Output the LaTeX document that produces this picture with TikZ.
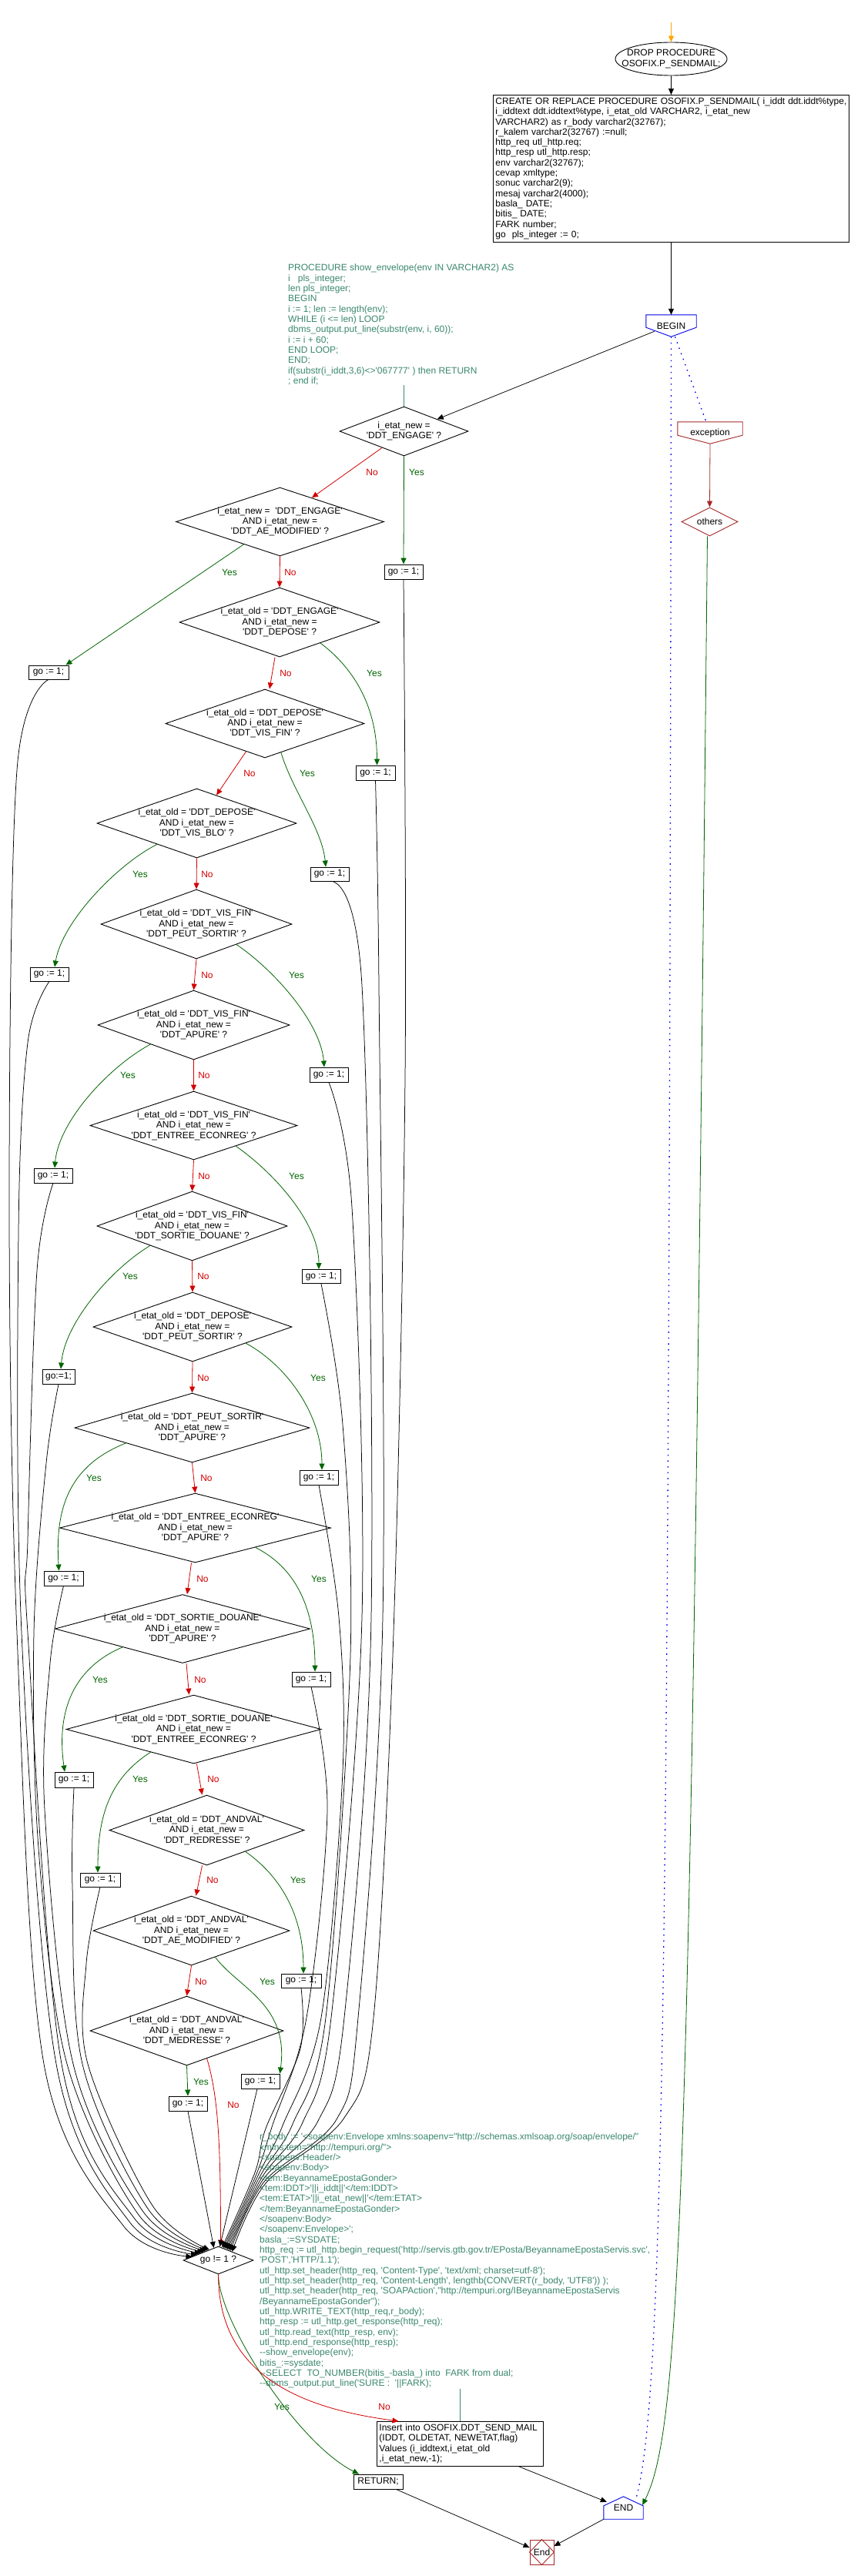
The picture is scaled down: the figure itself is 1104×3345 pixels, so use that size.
\documentclass[tikz,border=0pt]{standalone}
\usepackage{fontspec}
\newfontfamily\lsans{Liberation Sans}
\usetikzlibrary{shapes.geometric,arrows.meta}
\definecolor{yesc}{RGB}{0,100,0}
\definecolor{noc}{RGB}{210,0,0}
\definecolor{cmtc}{RGB}{58,135,110}
\definecolor{brownc}{RGB}{165,40,40}
\definecolor{bluec}{RGB}{0,0,235}
\definecolor{orangec}{RGB}{255,165,0}
\begin{document}
\begin{tikzpicture}[x=1pt,y=-1pt,
  fnt/.style={font=\lsans\fontsize{12}{13.33}\selectfont, inner sep=0pt},
  dec/.style={draw, shape=diamond, inner sep=0pt, line width=0.9pt},
  dtext/.style={fnt, align=center},
  gobox/.style={fnt, draw, line width=0.9pt, minimum width=50pt, minimum height=19pt},
  blkarr/.style={draw=black, line width=0.75pt, -{Triangle[length=8pt,width=7pt]}},
  yesarr/.style={draw=yesc, line width=0.8pt, -{Triangle[length=8pt,width=7pt]}},
  noarr/.style={draw=noc, line width=0.8pt, -{Triangle[length=8pt,width=7pt]}},
  yeslab/.style={fnt, text=yesc},
  nolab/.style={fnt, text=noc},
  cmt/.style={fnt, text=cmtc, align=left},
  cmtline/.style={draw=cmtc, line width=0.8pt},
  bluedot/.style={draw=bluec, line width=1.3pt, dash pattern=on 1.6pt off 6pt}
]
\fill[white] (0,0) rectangle (1104,3345);
\useasboundingbox (0,0) rectangle (1104,3345);

% ---------- top ----------
\coordinate (st) at (871.5,29);
\node[draw, shape=ellipse, line width=0.9pt, minimum width=145pt, minimum height=43pt, inner sep=0pt] (drop) at (871.5,76.5) {};
\node[dtext] (dropt) at (drop) {DROP PROCEDURE\\OSOFIX.P\_SENDMAIL;};
\draw[draw=orangec, line width=0.8pt, -{Triangle[length=8pt,width=7pt]}] (st) -- (drop.north);

\node[fnt, draw, line width=0.9pt, anchor=north west, text width=456pt, align=left, inner xsep=3pt, inner ysep=3.2pt] (cr) at (640,123)
{CREATE OR REPLACE PROCEDURE OSOFIX.P\_SENDMAIL( i\_iddt ddt.iddt\%type,\\
i\_iddtext ddt.iddtext\%type, i\_etat\_old VARCHAR2, i\_etat\_new\\
VARCHAR2) as r\_body varchar2(32767);\\
r\_kalem varchar2(32767) :=null;\\
http\_req utl\_http.req;\\
http\_resp utl\_http.resp;\\
env varchar2(32767);\\
cevap xmltype;\\
sonuc varchar2(9);\\
mesaj varchar2(4000);\\
basla\_ DATE;\\
bitis\_ DATE;\\
FARK number;\\
go \ pls\_integer := 0;};
\draw[blkarr] (drop.south) -- (cr.north);

% BEGIN
\node[fnt, minimum width=65pt, minimum height=28pt] (begin) at (871.5,423) {BEGIN};
\draw[bluec, line width=0.9pt] (begin.north west) -- (begin.north east) -- ([yshift=12pt]begin.south east) -- (begin.south) -- ([yshift=12pt]begin.south west) -- cycle;
\draw[blkarr] (cr.south) -- (begin.north);

% exception / others
\node[fnt, minimum width=84pt, minimum height=28pt] (exc) at (922,562) {exception};
\draw[brownc, line width=0.9pt] (exc.north west) -- (exc.north east) -- ([yshift=11pt]exc.south east) -- (exc.south) -- ([yshift=11pt]exc.south west) -- cycle;
\node[dec, draw=brownc, minimum width=73pt, minimum height=37pt] (oth) at (921.5,677.5) {};
\node[dtext] (otht) at (oth) {others};
\draw[draw=brownc, line width=0.8pt, -{Triangle[length=8pt,width=7pt]}] (exc.south) -- (oth.north);
\draw[bluedot] ([xshift=5pt]begin.south) -- ([xshift=-5pt]exc.north);

% comment 1
\node[cmt, anchor=north west] (c1) at (374,343)
{PROCEDURE show\_envelope(env IN VARCHAR2) AS\\
i\ \ \ pls\_integer;\\
len pls\_integer;\\
BEGIN\\
i := 1; len := length(env);\\
WHILE (i <= len) LOOP\\
dbms\_output.put\_line(substr(env, i, 60));\\
i := i + 60;\\
END LOOP;\\
END;\\
if(substr(i\_iddt,3,6)<>'067777' ) then RETURN\\
; end if;};

% ---------- decisions ----------
\node[dec, minimum width=167pt, minimum height=64pt] (d1) at (524.5,560) {};
\node[dtext] (t1) at (d1) {i\_etat\_new =\\'DDT\_ENGAGE' ?};
\node[dec, minimum width=270pt, minimum height=89pt] (d2) at (363.5,677.5) {};
\node[dtext] (t2) at (d2) {i\_etat\_new = \ 'DDT\_ENGAGE'\\AND i\_etat\_new =\\'DDT\_AE\_MODIFIED' ?};
\node[dec, minimum width=260pt, minimum height=90pt] (d3) at (363,808) {};
\node[dtext] (t3) at (d3) {i\_etat\_old = 'DDT\_ENGAGE'\\AND i\_etat\_new =\\'DDT\_DEPOSE' ?};
\node[dec, minimum width=258pt, minimum height=89pt] (d4) at (344,939.5) {};
\node[dtext] (t4) at (d4) {i\_etat\_old = 'DDT\_DEPOSE'\\AND i\_etat\_new =\\'DDT\_VIS\_FIN' ?};
\node[dec, minimum width=259pt, minimum height=90pt] (d5) at (255.5,1069) {};
\node[dtext] (t5) at (d5) {i\_etat\_old = 'DDT\_DEPOSE'\\AND i\_etat\_new =\\'DDT\_VIS\_BLO' ?};
\node[dec, minimum width=248pt, minimum height=90pt] (d6) at (255,1200) {};
\node[dtext] (t6) at (d6) {i\_etat\_old = 'DDT\_VIS\_FIN'\\AND i\_etat\_new =\\'DDT\_PEUT\_SORTIR' ?};
\node[dec, minimum width=249pt, minimum height=90pt] (d7) at (251.5,1331) {};
\node[dtext] (t7) at (d7) {i\_etat\_old = 'DDT\_VIS\_FIN'\\AND i\_etat\_new =\\'DDT\_APURE' ?};
\node[dec, minimum width=269pt, minimum height=89pt] (d8) at (251.5,1461.5) {};
\node[dtext] (t8) at (d8) {i\_etat\_old = 'DDT\_VIS\_FIN'\\AND i\_etat\_new =\\'DDT\_ENTREE\_ECONREG' ?};
\node[dec, minimum width=247pt, minimum height=90pt] (d9) at (249.5,1592) {};
\node[dtext] (t9) at (d9) {i\_etat\_old = 'DDT\_VIS\_FIN'\\AND i\_etat\_new =\\'DDT\_SORTIE\_DOUANE' ?};
\node[dec, minimum width=258pt, minimum height=90pt] (d10) at (250,1723) {};
\node[dtext] (t10) at (d10) {i\_etat\_old = 'DDT\_DEPOSE'\\AND i\_etat\_new =\\'DDT\_PEUT\_SORTIR' ?};
\node[dec, minimum width=305pt, minimum height=90pt] (d11) at (249.5,1854) {};
\node[dtext] (t11) at (d11) {i\_etat\_old = 'DDT\_PEUT\_SORTIR'\\AND i\_etat\_new =\\'DDT\_APURE' ?};
\node[dec, minimum width=352pt, minimum height=90pt] (d12) at (253.5,1984) {};
\node[dtext] (t12) at (d12) {i\_etat\_old = 'DDT\_ENTREE\_ECONREG'\\AND i\_etat\_new =\\'DDT\_APURE' ?};
\node[dec, minimum width=331pt, minimum height=89pt] (d13) at (237,2115) {};
\node[dtext] (t13) at (d13) {i\_etat\_old = 'DDT\_SORTIE\_DOUANE'\\AND i\_etat\_new =\\'DDT\_APURE' ?};
\node[dec, minimum width=331pt, minimum height=89pt] (d14) at (251.5,2245.5) {};
\node[dtext] (t14) at (d14) {i\_etat\_old = 'DDT\_SORTIE\_DOUANE'\\AND i\_etat\_new =\\'DDT\_ENTREE\_ECONREG' ?};
\node[dec, minimum width=253pt, minimum height=91pt] (d15) at (268.5,2376.5) {};
\node[dtext] (t15) at (d15) {i\_etat\_old = 'DDT\_ANDVAL'\\AND i\_etat\_new =\\'DDT\_REDRESSE' ?};
\node[dec, minimum width=255pt, minimum height=90pt] (d16) at (248.5,2507) {};
\node[dtext] (t16) at (d16) {i\_etat\_old = 'DDT\_ANDVAL'\\AND i\_etat\_new =\\'DDT\_AE\_MODIFIED' ?};
\node[dec, minimum width=251pt, minimum height=90pt] (d17) at (242.5,2637) {};
\node[dtext] (t17) at (d17) {i\_etat\_old = 'DDT\_ANDVAL'\\AND i\_etat\_new =\\'DDT\_MEDRESSE' ?};

\draw[cmtline] (c1.south -| d1.north) -- (d1.north);
\draw[blkarr] ([xshift=11pt,yshift=7pt]begin.south west) -- (d1.20);

% ---------- go boxes ----------
\node[gobox] (gA) at (524,742.5) {go := 1;};
\node[gobox, minimum width=52pt, minimum height=18pt] (gB) at (63,873) {go := 1;};
\node[gobox, minimum width=51pt] (gC) at (487.5,1003.5) {go := 1;};
\node[gobox, minimum height=18pt] (gD) at (428,1135) {go := 1;};
\node[gobox, minimum height=18pt] (gE) at (64,1265) {go := 1;};
\node[gobox] (gF) at (427,1395.5) {go := 1;};
\node[gobox] (gG) at (69,1526.5) {go := 1;};
\node[gobox, minimum height=18pt] (gH) at (417,1657.5) {go := 1;};
\node[gobox, minimum width=42pt] (gI) at (76,1787.5) {go:=1;};
\node[gobox] (gJ) at (414,1918.5) {go := 1;};
\node[gobox, minimum width=51pt] (gK) at (82.5,2049.5) {go := 1;};
\node[gobox] (gL) at (404,2180.5) {go := 1;};
\node[gobox, minimum height=20pt] (gM) at (96,2311) {go := 1;};
\node[gobox, minimum width=52pt, minimum height=18pt] (gN) at (130,2441) {go := 1;};
\node[gobox, minimum width=52pt, minimum height=18pt] (gO) at (391,2572) {go := 1;};
\node[gobox] (gP) at (338,2702.5) {go := 1;};
\node[gobox] (gQ) at (244,2731.5) {go := 1;};

% ---------- yes connectors ----------
\draw[yesarr] (d1.south) -- (gA.north);
\draw[yesarr] (d2.212) -- ([xshift=-4pt]gB.north east);
\draw[yesarr] (d3.333) .. controls +(40,30) and +(0,-80) .. ([xshift=2pt]gC.north);
\draw[yesarr] (d4.299) .. controls +(15,50) and +(-5,-50) .. ([xshift=-5pt]gD.north);
\draw[yesarr] (d5.208) .. controls +(-50,25) and +(10,-60) .. ([xshift=7pt]gE.north);
\draw[yesarr] (d6.333) .. controls +(45,30) and +(-5,-60) .. ([xshift=-6pt]gF.north);
\draw[yesarr] (d7.204) .. controls +(-55,30) and +(5,-60) .. ([xshift=2pt]gG.north);
\draw[yesarr] (d8.334) .. controls +(50,35) and +(0,-60) .. ([xshift=-3pt]gH.north);
\draw[yesarr] (d9.205) .. controls +(-50,30) and +(5,-60) .. ([xshift=3pt]gI.north);
\draw[yesarr] (d10.343) .. controls +(55,30) and +(0,-70) .. ([xshift=4pt]gJ.north);
\draw[yesarr] (d11.193) .. controls +(-75,30) and +(-5,-80) .. ([xshift=-6pt]gK.north);
\draw[yesarr] (d12.342) .. controls +(60,30) and +(0,-70) .. ([xshift=5pt]gL.north);
\draw[yesarr] (d13.197) .. controls +(-70,30) and +(-10,-70) .. ([xshift=-12pt]gM.north);
\draw[yesarr] (d14.208) .. controls +(-55,35) and +(0,-70) .. ([xshift=-3pt]gN.north);
\draw[yesarr] (d15.331) .. controls +(50,35) and +(0,-70) .. ([xshift=3pt]gO.north);
\draw[yesarr] (d16.312) .. controls +(30,40) and +(12,-90) .. (gP.north east);
\draw[yesarr] (d17.south) -- (gQ.north);

% ---------- no connectors ----------
\draw[noarr] (d1.217) -- (d2.37);
\draw[noarr] (d2.south) -- (d3.north);
\draw[noarr] ([xshift=-6pt]d3.south) -- ([xshift=6pt]d4.north);
\draw[noarr] (d4.236) -- (d5.55);
\draw[noarr] (d5.south) -- (d6.north);
\draw[noarr] (d6.south) -- (d7.north);
\draw[noarr] (d7.south) -- (d8.north);
\draw[noarr] (d8.south) -- (d9.north);
\draw[noarr] (d9.south) -- (d10.north);
\draw[noarr] (d10.south) -- (d11.north);
\draw[noarr] (d11.south) -- (d12.north);
\draw[noarr] ([xshift=-5pt]d12.south) -- ([xshift=6pt]d13.north);
\draw[noarr] ([xshift=5pt]d13.south) -- ([xshift=-6pt]d14.north);
\draw[noarr] ([xshift=4pt]d14.south) -- ([xshift=-6pt]d15.north);
\draw[noarr] ([xshift=-6pt]d15.south) -- ([xshift=6pt]d16.north);
\draw[noarr] (d16.south) -- (d17.north);

% ---------- labels ----------
\node[yeslab] (y1) at (541,613) {Yes};   \node[nolab] (n1) at (483,613) {No};
\node[yeslab] (y2) at (298,743) {Yes};   \node[nolab] (n2) at (377,743) {No};
\node[yeslab] (y3) at (486,874) {Yes};   \node[nolab] (n3) at (371,874) {No};
\node[yeslab] (y4) at (399,1004) {Yes};  \node[nolab] (n4) at (324,1004) {No};
\node[yeslab] (y5) at (182,1135) {Yes};  \node[nolab] (n5) at (269,1135) {No};
\node[yeslab] (y6) at (385,1266) {Yes};  \node[nolab] (n6) at (269,1266) {No};
\node[yeslab] (y7) at (166,1396) {Yes};  \node[nolab] (n7) at (265,1396) {No};
\node[yeslab] (y8) at (385,1527) {Yes};  \node[nolab] (n8) at (265,1527) {No};
\node[yeslab] (y9) at (169,1657) {Yes};  \node[nolab] (n9) at (264,1657) {No};
\node[yeslab] (y10) at (413,1789) {Yes}; \node[nolab] (n10) at (264,1789) {No};
\node[yeslab] (y11) at (122,1919) {Yes}; \node[nolab] (n11) at (268,1919) {No};
\node[yeslab] (y12) at (414,2050) {Yes}; \node[nolab] (n12) at (263,2050) {No};
\node[yeslab] (y13) at (130,2181) {Yes}; \node[nolab] (n13) at (260,2181) {No};
\node[yeslab] (y14) at (182,2310) {Yes}; \node[nolab] (n14) at (277,2310) {No};
\node[yeslab] (y15) at (387,2441) {Yes}; \node[nolab] (n15) at (276,2441) {No};
\node[yeslab] (y16) at (347,2573) {Yes}; \node[nolab] (n16) at (261,2573) {No};
\node[yeslab] (y17) at (261,2703) {Yes}; \node[nolab] (n17) at (303,2733) {No};

% ---------- go != 1 ----------
\node[dec, minimum width=91pt, minimum height=36pt] (gone) at (283.5,2935) {};
\node[dtext] (gonet) at (gone) {go != 1 ?};
\draw[noarr] (d17.306) .. controls +(15,50) and +(0,-130) .. ([xshift=3pt]gone.north);

% left go boxes to go != 1
\draw[blkarr] plot[smooth, tension=0.55] coordinates {(gB.south) (22,1000) (12,1560) (22,2120) (57,2680) (160,2890) (gone.172)};
\draw[blkarr] plot[smooth, tension=0.55] coordinates {(gE.south) (36,1354) (24,1600) (28,2120) (73,2680) (168,2885) (gone.165)};
\draw[blkarr] plot[smooth, tension=0.55] coordinates {(gG.south) (48,1650) (36,2000) (36,2120) (80,2680) (174,2880) (gone.158)};
\draw[blkarr] plot[smooth, tension=0.55] coordinates {(gI.south) (60,1900) (44,2120) (50,2400) (87,2680) (180,2876) (gone.151)};
\draw[blkarr] plot[smooth, tension=0.55] coordinates {(gK.south) (65,2160) (58,2350) (95,2680) (186,2872) (gone.144)};
\draw[blkarr] plot[smooth, tension=0.55] coordinates {(gM.south) (94,2450) (107,2680) (192,2868) (gone.137)};
\draw[blkarr] plot[smooth, tension=0.55] coordinates {(gN.south) (112,2550) (114,2680) (198,2864) (gone.130)};
% right go boxes to go != 1
\draw[blkarr] plot[smooth, tension=0.55] coordinates {(gA.south) (526,1400) (511,2120) (485,2620) (447,2750) (345,2835) (gone.32)};
\draw[blkarr] plot[smooth, tension=0.55] coordinates {(gC.south) (492,1280) (497,2100) (465,2620) (437,2752) (343,2833) (gone.38)};
\draw[blkarr] plot[smooth, tension=0.55] coordinates {(gD.south) (470,1280) (482,2100) (447,2620) (413,2754) (341,2831) (gone.44)};
\draw[blkarr] plot[smooth, tension=0.55] coordinates {(gF.south) (457,1568) (470,2100) (430,2620) (393,2756) (339,2829) (gone.50)};
\draw[blkarr] plot[smooth, tension=0.55] coordinates {(gH.south) (445,1850) (455,2150) (423,2620) (380,2758) (337,2827) (gone.56)};
\draw[blkarr] plot[smooth, tension=0.55] coordinates {(gJ.south) (440,2100) (445,2300) (417,2620) (367,2760) (335,2825) (gone.62)};
\draw[blkarr] plot[smooth, tension=0.55] coordinates {(gL.south) (425,2350) (398,2620) (353,2762) (333,2823) (gone.68)};
\draw[blkarr] plot[smooth, tension=0.55] coordinates {(gO.south) (390,2660) (345,2764) (331,2821) (gone.74)};
\draw[blkarr] ([xshift=-4pt]gP.south) -- (gone.84);
\draw[blkarr] (gQ.south) -- (gone.110);

% ---------- code comment ----------
\node[cmt, anchor=north west] (c2) at (337,2770)
{r\_body := '<soapenv:Envelope xmlns:soapenv="http://schemas.xmlsoap.org/soap/envelope/"\\
xmlns:tem="http://tempuri.org/">\\
<soapenv:Header/>\\
<soapenv:Body>\\
<tem:BeyannameEpostaGonder>\\
<tem:IDDT>'||i\_iddt||'</tem:IDDT>\\
<tem:ETAT>'||i\_etat\_new||'</tem:ETAT>\\
</tem:BeyannameEpostaGonder>\\
</soapenv:Body>\\
</soapenv:Envelope>';\\
basla\_:=SYSDATE;\\
http\_req := utl\_http.begin\_request('http://servis.gtb.gov.tr/EPosta/BeyannameEpostaServis.svc',\\
'POST','HTTP/1.1');\\
utl\_http.set\_header(http\_req, 'Content-Type', 'text/xml; charset=utf-8');\\
utl\_http.set\_header(http\_req, 'Content-Length', lengthb(CONVERT(r\_body, 'UTF8')) );\\
utl\_http.set\_header(http\_req, 'SOAPAction',"http://tempuri.org/IBeyannameEpostaServis\\
/BeyannameEpostaGonder");\\
utl\_http.WRITE\_TEXT(http\_req,r\_body);\\
http\_resp := utl\_http.get\_response(http\_req);\\
utl\_http.read\_text(http\_resp, env);\\
utl\_http.end\_response(http\_resp);\\
--show\_envelope(env);\\
bitis\_:=sysdate;\\
--SELECT \ TO\_NUMBER(bitis\_-basla\_) into \ FARK from dual;\\
--dbms\_output.put\_line('SURE : \ '||FARK);};

% ---------- bottom ----------
\node[fnt, draw, line width=0.9pt, anchor=north west, text width=210pt, align=left, inner xsep=3pt, inner ysep=3.3pt] (ins) at (489,3144)
{Insert into OSOFIX.DDT\_SEND\_MAIL\\
(IDDT, OLDETAT, NEWETAT,flag)\\
Values (i\_iddtext,i\_etat\_old\\
,i\_etat\_new,-1);};
\draw[cmtline] (c2.south -| ins.north) -- (ins.north);
\node[gobox, minimum width=64pt] (ret) at (491,3222.5) {RETURN;};

\draw[yesarr] (gone.south) .. controls +(0,60) and +(-80,-40) .. ([xshift=-25pt]ret.north);
\draw[noarr] (gone.south) .. controls +(0,140) and +(-110,-15) .. ([xshift=-80pt]ins.north);
\node[yeslab] (yg) at (366,3125) {Yes};
\node[nolab] (ng) at (499,3125) {No};

\node[fnt, minimum width=51pt, minimum height=29pt] (endn) at (809.5,3256.5) {END};
\draw[bluec, line width=0.9pt] (endn.south west) -- (endn.south east) -- ([yshift=-12pt]endn.north east) -- (endn.north) -- ([yshift=-12pt]endn.north west) -- cycle;

\node[fnt, draw=brownc, line width=0.9pt, minimum width=31pt, minimum height=32pt] (fin) at (703.5,3314) {End};
\draw[brownc, line width=0.9pt] (fin.north) -- (fin.east) -- (fin.south) -- (fin.west) -- cycle;

\draw[blkarr] ([xshift=76pt]ins.south) -- ([xshift=4pt,yshift=-7pt]endn.north west);
\draw[blkarr] ([xshift=-9pt]ret.south east) -- ([yshift=6pt]fin.west);
\draw[blkarr] (endn.south west) -- ([yshift=8pt]fin.east);

\draw[bluedot] (begin.south) .. controls +(-3,2200) and +(35,-120) .. ([xshift=-10pt,yshift=-5pt]endn.north east);
\draw[yesarr] ([xshift=-3pt]oth.south) .. controls +(-22,2150) and +(50,-100) .. ([xshift=-1pt,yshift=-11pt]endn.north east);
\end{tikzpicture}
\end{document}
